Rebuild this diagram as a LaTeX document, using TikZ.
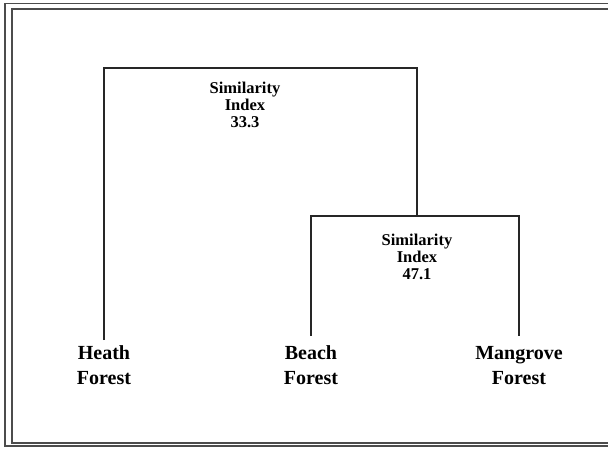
\documentclass[tikz,border=0pt]{standalone}
\usepackage{fontspec}
\setmainfont{Liberation Serif}
\usepackage{tikz}

\begin{document}
\begin{tikzpicture}[x=1pt,y=-1pt,
		leaf/.style={align=center,font=\bfseries\fontsize{20}{25}\selectfont,inner sep=0pt,anchor=north},
		simlabel/.style={align=center,font=\bfseries\fontsize{16.5}{17}\selectfont,inner sep=0pt},
		branch/.style={line width=1.7pt,color=black!85}]
			\useasboundingbox (0,0) rectangle (608,448);
			% frame
			\draw[line width=1.6pt,black!70] (612,446) -- (5,446) -- (5,3.5) -- (612,3.5);
			\draw[line width=1.6pt,black!70] (612,443) -- (12,443) -- (12,9) -- (612,9);
			% leaves
			\node[leaf] (heath) at (104,345) {Heath\\Forest};
			\node[leaf] (beach) at (311,345) {Beach\\Forest};
			\node[leaf] (mangrove) at (519,346) {Mangrove\\Forest};
			% junctions
			\coordinate (top) at (417,68);
			\coordinate (sub) at (417,216);
			\draw[branch] ([yshift=5pt]heath.north) |- (top) -- (sub);
			\draw[branch] ([yshift=9pt]beach.north) |- (sub) -| ([yshift=10pt]mangrove.north);
			% index labels
			\node[simlabel] (sim1) at (245,105) {Similarity\\Index\\33.3};
			\node[simlabel] (sim2) at (417,257) {Similarity\\Index\\47.1};
		\end{tikzpicture}
\end{document}
